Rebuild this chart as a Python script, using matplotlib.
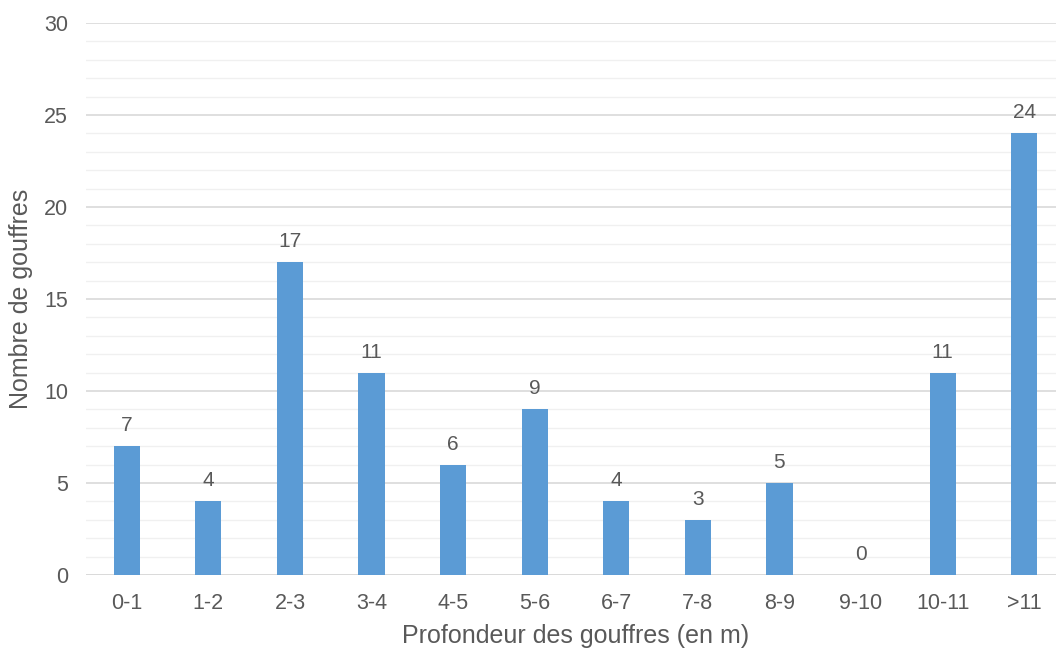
import matplotlib
matplotlib.use("Agg")
from matplotlib import pyplot as plt
import numpy as np

categories = ["0-1", "1-2", "2-3", "3-4", "4-5", "5-6", "6-7", "7-8", "8-9", "9-10", "10-11", ">11"]
counts = [7, 4, 17, 11, 6, 9, 4, 3, 5, 0, 11, 24]

plt.rcParams['font.family'] = ['Liberation Sans', 'DejaVu Sans']
text_color = "#595959"
bar_color = "#5B9BD5"

fig = plt.figure(figsize=(10.56, 6.48), dpi=100)
# axes run past the right edge, as in the reference crop
ax = fig.add_axes([86 / 1056, (648 - 575) / 648, (1065 - 86) / 1056, (575 - 23) / 648])

x = np.arange(len(categories))
ax.bar(x, counts, width=0.32, color=bar_color, zorder=3)

for xi, c in zip(x, counts):
    ax.text(xi, c + 0.6, str(c), ha="center", va="bottom", fontsize=15, color=text_color)

ax.set_xlim(-0.5, len(categories) - 0.5)
ax.set_ylim(0, 30)
ax.set_yticks(range(0, 31, 5))
ax.set_yticks(range(0, 31, 1), minor=True)
ax.set_xticks(x)
ax.set_xticklabels(categories)

ax.grid(axis="y", which="major", color="#D9D9D9", linewidth=1.2, zorder=0)
ax.grid(axis="y", which="minor", color="#F0F0F0", linewidth=1.0, zorder=0)

for s in ["top", "right", "left", "bottom"]:
    ax.spines[s].set_visible(False)
ax.axhline(0, color="#D9D9D9", linewidth=1.2, zorder=2)

ax.tick_params(axis="both", which="both", length=0, labelsize=15.5, colors=text_color)
ax.tick_params(axis="x", pad=13)
ax.tick_params(axis="y", pad=13)

ax.set_xlabel("Profondeur des gouffres (en m)", fontsize=18, color=text_color, labelpad=7)
ax.set_ylabel("Nombre de gouffres", fontsize=18, color=text_color, labelpad=8)

fig.savefig("out.png", dpi=100)
